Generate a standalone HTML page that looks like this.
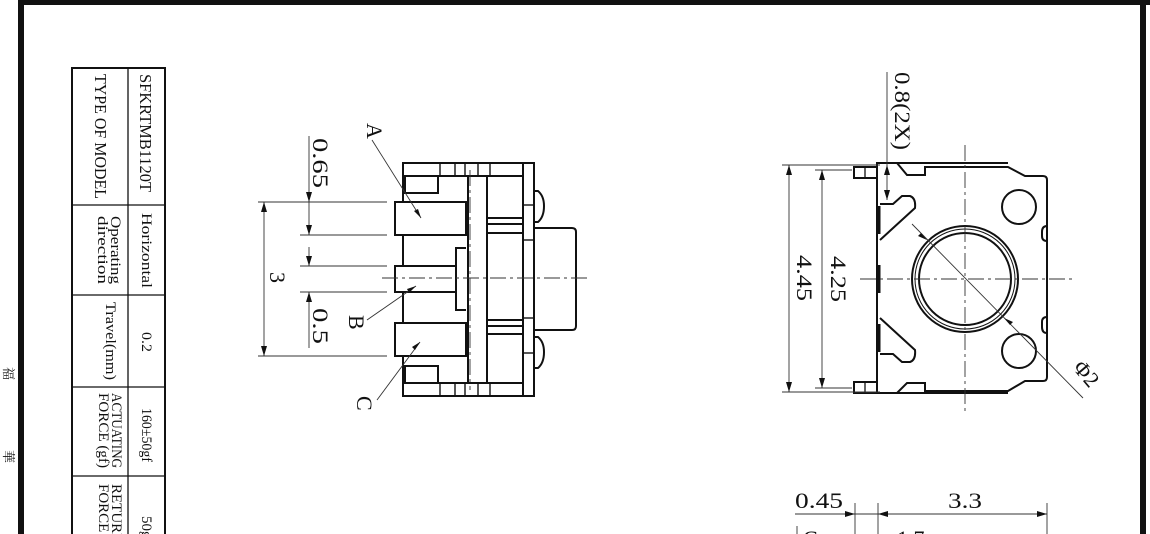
<!DOCTYPE html>
<html><head><meta charset="utf-8"><style>
html,body{margin:0;padding:0;background:#fff;}
svg{display:block;}
text{font-family:"Liberation Serif","Noto Serif CJK SC",serif;fill:#111;}
</style></head><body>
<svg width="1150" height="534" viewBox="0 0 1150 534" xmlns="http://www.w3.org/2000/svg">
<rect width="1150" height="534" fill="#fff"/>
<rect x="18" y="0" width="6" height="534" fill="#111"/>
<rect x="18" y="0" width="1132" height="5" fill="#111"/>
<rect x="1140" y="0" width="6" height="534" fill="#111"/>
<text font-size="13" transform="translate(4 367) rotate(90)">福</text>
<text font-size="13" transform="translate(4 450) rotate(90)">華</text>

<g stroke="#111" fill="none" stroke-width="2">
<path d="M72 534 V68 H165 V534"/>
</g>
<g stroke="#111" stroke-width="1.3">
<line x1="128" y1="68" x2="128" y2="534"/>
<line x1="72" y1="205" x2="165" y2="205"/>
<line x1="72" y1="295" x2="165" y2="295"/>
<line x1="72" y1="387" x2="165" y2="387"/>
<line x1="72" y1="476" x2="165" y2="476"/>
</g>
<g font-size="17">
<text transform="translate(140 74) rotate(90)" textLength="118" lengthAdjust="spacingAndGlyphs">SFKRTMB1120T</text>
<text transform="translate(95 74) rotate(90)" textLength="125" lengthAdjust="spacingAndGlyphs">TYPE  OF  MODEL</text>
<text transform="translate(142 213) rotate(90)" font-size="15" textLength="75" lengthAdjust="spacingAndGlyphs">Horizontal</text>
<text transform="translate(111 216) rotate(90)" font-size="15" textLength="68" lengthAdjust="spacingAndGlyphs">Operating</text>
<text transform="translate(98 216) rotate(90)" font-size="15" textLength="68" lengthAdjust="spacingAndGlyphs">direction</text>
<text transform="translate(142 332) rotate(90)" font-size="15" textLength="20" lengthAdjust="spacingAndGlyphs">0.2</text>
<text transform="translate(106 302) rotate(90)" font-size="15" textLength="78" lengthAdjust="spacingAndGlyphs">Travel(mm)</text>
<text transform="translate(142 408) rotate(90)" font-size="15" textLength="54" lengthAdjust="spacingAndGlyphs">160±50gf</text>
<text transform="translate(112 393) rotate(90)" font-size="15" textLength="75" lengthAdjust="spacingAndGlyphs">ACTUATING</text>
<text transform="translate(99 393) rotate(90)" font-size="15" textLength="75" lengthAdjust="spacingAndGlyphs">FORCE (gf)</text>
<text transform="translate(142 516) rotate(90)" font-size="15">50g</text>
<text transform="translate(112 484) rotate(90)" font-size="15">RETURN</text>
<text transform="translate(99 484) rotate(90)" font-size="15">FORCE</text>
</g>

<!-- LEFT DRAWING -->
<g stroke="#111" fill="none" stroke-width="2">
<rect x="523" y="163" width="11" height="233"/>
<path d="M523 163 H403 V396 H523"/>
<line x1="403" y1="176" x2="523" y2="176"/>
<line x1="403" y1="383" x2="523" y2="383"/>
<rect x="405" y="176" width="33" height="17"/>
<rect x="405" y="366" width="33" height="17"/>
<rect x="468" y="176" width="19" height="207"/>
<line x1="487" y1="218" x2="523" y2="218"/><line x1="487" y1="224" x2="523" y2="224"/><line x1="487" y1="233" x2="523" y2="233"/>
<line x1="487" y1="320" x2="523" y2="320"/><line x1="487" y1="326" x2="523" y2="326"/><line x1="487" y1="334" x2="523" y2="334"/>
<rect x="395" y="202" width="71" height="33" fill="#fff"/>
<rect x="395" y="266" width="61" height="26" fill="#fff"/>
<rect x="395" y="323" width="71" height="33" fill="#fff"/>
<path d="M456 266 V248 H466"/><path d="M456 292 V310 H466"/>
<path d="M534 228 H572 Q576 228 576 232 V326 Q576 330 572 330 H534"/>
<path d="M534 191 H538 Q544 196 544 206 Q544 217 538 222 H534"/>
<path d="M534 337 H538 Q544 342 544 352 Q544 363 538 368 H534"/>
</g>
<g stroke="#111" stroke-width="1.4">
<line x1="440" y1="163" x2="440" y2="176"/><line x1="455" y1="163" x2="455" y2="176"/><line x1="465" y1="163" x2="465" y2="176"/><line x1="478" y1="163" x2="478" y2="176"/><line x1="490" y1="163" x2="490" y2="176"/>
<line x1="440" y1="383" x2="440" y2="396"/><line x1="455" y1="383" x2="455" y2="396"/><line x1="465" y1="383" x2="465" y2="396"/><line x1="478" y1="383" x2="478" y2="396"/><line x1="490" y1="383" x2="490" y2="396"/>
<line x1="523" y1="205" x2="534" y2="205"/><line x1="523" y1="240" x2="534" y2="240"/><line x1="523" y1="318" x2="534" y2="318"/><line x1="523" y1="353" x2="534" y2="353"/>
</g>
<g stroke="#333" stroke-width="0.9" fill="none">
<line x1="382" y1="278" x2="590" y2="278" stroke-dasharray="16 4 3 4"/>
<line x1="470" y1="170" x2="470" y2="390" stroke-dasharray="16 4 3 4"/>
<line x1="258" y1="202" x2="387" y2="202"/><line x1="300" y1="235" x2="387" y2="235"/><line x1="300" y1="266" x2="387" y2="266"/><line x1="300" y1="292" x2="387" y2="292"/><line x1="258" y1="356" x2="387" y2="356"/>
<line x1="264" y1="202" x2="264" y2="356"/>
<line x1="309" y1="136" x2="309" y2="235"/>
<line x1="309" y1="247" x2="309" y2="266"/>
<line x1="309" y1="292" x2="309" y2="348"/>
<line x1="372" y1="140" x2="421" y2="218"/>
<line x1="367" y1="320" x2="416" y2="286"/>
<line x1="377" y1="400" x2="420" y2="342"/>
</g>
<g fill="#111">
<path d="M264 202 l-3 10 h6z"/><path d="M264 356 l-3 -10 h6z"/>
<path d="M309 202 l-3 -10 h6z"/><path d="M309 235 l-3 -10 h6z"/>
<path d="M309 266 l-3 -10 h6z"/><path d="M309 292 l-3 10 h6z"/>
<path d="M421 218 l-7 -7 l4 -2z"/><path d="M416 286 l-9 3 l2 4z"/><path d="M420 342 l-8 5 l3 3z"/>
</g>
<g font-size="22">
<text transform="translate(313 138) rotate(90)" textLength="50" lengthAdjust="spacingAndGlyphs">0.65</text>
<text transform="translate(313 308) rotate(90)" textLength="36" lengthAdjust="spacingAndGlyphs">0.5</text>
<text transform="translate(270 272) rotate(90)">3</text>
<text transform="translate(367 123) rotate(90)">A</text>
<text transform="translate(349 315) rotate(90)">B</text>
<text transform="translate(357 396) rotate(90)">C</text>
</g>

<!-- RIGHT DRAWING -->
<g stroke="#111" fill="none" stroke-width="2">
<path d="M877 163 H897 L907 175 H925 V167 H1008 L1025 176 H1043 Q1047 176 1047 180 V377 Q1047 381 1043 381 H1025 L1008 391 H925 V383 H907 L897 393 H877 Z"/>
<path d="M897 163 H1008"/><path d="M897 393 H1008"/>
<path d="M880 204 H893 L902 196 H910 Q916 198 915 208 L880 240"/>
<path d="M880 354 H893 L902 362 H910 Q916 360 915 350 L880 318"/>
<rect x="854" y="167" width="23" height="11"/><rect x="854" y="382" width="23" height="11"/>
<circle cx="965" cy="279" r="53"/>
<circle cx="965" cy="279" r="46"/>
<circle cx="1019" cy="207" r="17"/>
<circle cx="1019" cy="351" r="17"/>
<path d="M1047 226 Q1042 226 1042 232 V236 Q1042 241 1047 241"/>
<path d="M1047 317 Q1042 317 1042 322 V327 Q1042 333 1047 333"/>
</g>
<g stroke="#111" stroke-width="3">
<line x1="879" y1="206" x2="879" y2="234"/><line x1="879" y1="265" x2="879" y2="293"/><line x1="879" y1="324" x2="879" y2="352"/>
</g>
<circle cx="965" cy="279" r="50" stroke="#111" stroke-width="1" fill="none"/>
<g stroke="#111" stroke-width="1.3"><line x1="865" y1="167" x2="865" y2="178"/><line x1="865" y1="382" x2="865" y2="393"/></g>
<g stroke="#333" stroke-width="0.9" fill="none">
<line x1="965" y1="145" x2="965" y2="415" stroke-dasharray="16 4 3 4"/>
<line x1="860" y1="279" x2="1072" y2="279" stroke-dasharray="16 4 3 4"/>
<line x1="782" y1="165" x2="880" y2="165"/><line x1="782" y1="392" x2="880" y2="392"/>
<line x1="815" y1="170" x2="852" y2="170"/><line x1="815" y1="388" x2="852" y2="388"/>
<line x1="789" y1="165" x2="789" y2="392"/>
<line x1="822" y1="170" x2="822" y2="388"/>
<line x1="887" y1="72" x2="887" y2="200"/>
<line x1="912" y1="224" x2="1083" y2="398"/>
<line x1="795" y1="514" x2="1047" y2="514"/>
<line x1="855" y1="503" x2="855" y2="534"/><line x1="878" y1="503" x2="878" y2="534"/><line x1="1047" y1="503" x2="1047" y2="534"/>
<line x1="797" y1="526" x2="797" y2="534"/>
</g>
<g fill="#111">
<path d="M789 165 l-3 10 h6z"/><path d="M789 392 l-3 -10 h6z"/>
<path d="M822 170 l-3 10 h6z"/><path d="M822 388 l-3 -10 h6z"/>
<path d="M887 165 l-3 10 h6z"/><path d="M887 200 l-3 -10 h6z"/>
<path d="M927 240 l-9 -4 l3 -3z"/><path d="M1004 318 l9 4 l-3 3z"/>
<path d="M855 514 l-10 -3 v6z"/><path d="M878 514 l10 -3 v6z"/><path d="M1047 514 l-10 -3 v6z"/>
</g>
<g font-size="22">
<text transform="translate(895 72) rotate(90)" textLength="78" lengthAdjust="spacingAndGlyphs">0.8(2X)</text>
<text transform="translate(797 255) rotate(90)" textLength="46" lengthAdjust="spacingAndGlyphs">4.45</text>
<text transform="translate(831 256) rotate(90)" textLength="46" lengthAdjust="spacingAndGlyphs">4.25</text>
<text transform="translate(1072 368) rotate(50)">Φ2</text>
<text x="795" y="508" textLength="48" lengthAdjust="spacingAndGlyphs">0.45</text>
<text x="948" y="508" textLength="34" lengthAdjust="spacingAndGlyphs">3.3</text>
<text x="897" y="546">1.7</text>
<text x="803" y="546">C</text>
</g>
</svg>
</body></html>
